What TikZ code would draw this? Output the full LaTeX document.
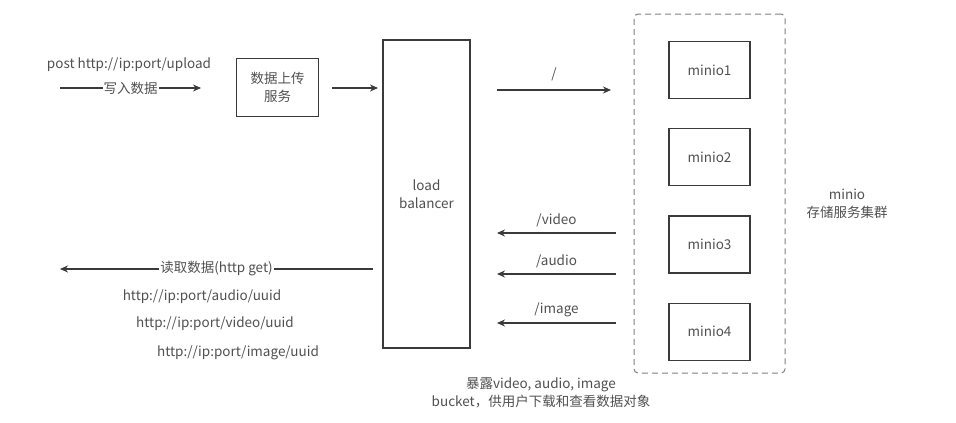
\documentclass[tikz,border=0pt]{standalone}
\usepackage{fontspec}
\setmainfont{Noto Sans CJK SC}
\usepackage{xcolor}
\usetikzlibrary{arrows.meta,positioning}
\definecolor{ink}{HTML}{3a3a3a}
\definecolor{txt}{HTML}{505050}

\begin{document}
\begin{tikzpicture}[x=1pt, y=-1pt, font=\fontsize{13.5}{18}\selectfont, text=txt, node distance=29pt,
  bx/.style={draw=ink, line width=1.2pt, inner sep=2pt, align=center},
  mbox/.style={bx, minimum width=81pt, minimum height=57pt},
  ar/.style={draw=ink, line width=1.2pt, -{Stealth[length=8pt, width=7pt]}},
  lbl/.style={fill=white, inner sep=1pt}]
  \useasboundingbox (0,0) rectangle (956,423);
  % storage cluster
  \node[draw=ink!65, dash pattern=on 6pt off 4pt, line width=1pt, rounded corners=4pt,
    minimum width=151pt, minimum height=359pt] (cl) at (709.5,193.5) {};
  \node[mbox] (m1) at (709.5,70) {minio1};
  \node[mbox, below=of m1] (m2) {minio2};
  \node[mbox, below=of m2] (m3) {minio3};
  \node[mbox, below=of m3] (m4) {minio4};
  \node[align=center] (cln) at (847,204) {minio\\存储服务集群};
  % front side
  \node[bx, minimum width=82pt, minimum height=58pt] (up) at (277.5,87.5) {数据上传\\服务};
  \node[bx, minimum width=87pt, minimum height=308pt] (lb) at (426.5,194) {load\\balancer};
  \node (post) at (129,65) {post http://ip:port/upload};
  \coordinate (w0) at (60,88); \coordinate (w1) at (201,88);
  \draw[ar] (w0) -- node[lbl] (wr) {写入数据} (w1);
  \coordinate (u0) at (332,88); \coordinate (u1) at (378,88);
  \draw[ar] (u0) -- (u1);
  \coordinate (s0) at (497,90); \coordinate (s1) at (611,90);
  \draw[ar] (s0) -- node[above=5pt] (sl) {/} (s1);
  % read paths
  \foreach \n/\y/\t in {v/233/video, a/274/audio, i/323/image} {
    \coordinate (\n0) at (616,\y); \coordinate (\n1) at (497,\y);
    \draw[ar] (\n0) -- node[above=2pt] (\n l) {/\t} (\n1);
  }
  \coordinate (r0) at (373,269); \coordinate (r1) at (60,269);
  \draw[ar] (r0) -- node[lbl, pos=0.5] (rd) {读取数据(http get)} (r1);
  \node (ua) at (202,297) {http://ip:port/audio/uuid};
  \node (uv) at (215,324) {http://ip:port/video/uuid};
  \node (ui) at (238,353) {http://ip:port/image/uuid};
  \node[align=center] (nt) at (541,393) {暴露video, audio, image\\bucket，供用户下载和查看数据对象};
\end{tikzpicture}
\end{document}
